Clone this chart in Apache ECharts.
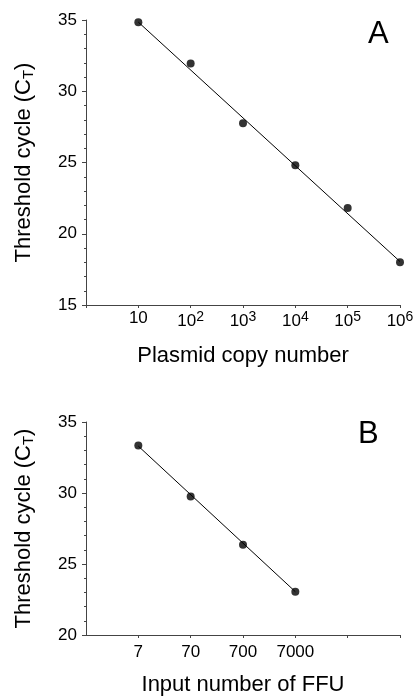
<!DOCTYPE html>
<html>
<head>
<meta charset="utf-8">
<script src="https://cdn.jsdelivr.net/npm/echarts@6/dist/echarts.min.js"></script>
<style>html,body{margin:0;padding:0;background:#fff;}#c{width:419px;height:697px;}</style>
</head>
<body>
<div id="c"></div>
<script>
// Panel A: plasmid copy number vs threshold cycle
const plasmidCopies = [10, 100, 1000, 10000, 100000, 1000000];
const ctA = [34.85, 31.95, 27.75, 24.8, 21.8, 18.0];
const fitA = [[10, 34.85], [1000000, 18.05]];
// Panel B: input FFU vs threshold cycle
const ffu = [7, 70, 700, 7000];
const ctB = [33.35, 29.75, 26.35, 23.05];
const fitB = [[7, 33.3], [7000, 23.05]];
const ffuTicks = [7, 70, 700, 7000, 70000, 700000];
const ffuLabels = [7, 70, 700, 7000];

const FONT = 'Liberation Sans, Arial, sans-serif';
const chart = echarts.init(document.getElementById('c'), null, {renderer: 'canvas'});

function yAxis(idx, min, max) {
  return {
    type: 'value', gridIndex: idx, min: min, max: max, interval: 5,
    name: 'Threshold cycle (C{sub|T})',
    nameLocation: 'middle', nameGap: 50,
    nameTextStyle: {fontFamily: FONT, fontSize: 22, color: '#000',
      rich: {sub: {fontFamily: FONT, fontSize: 15, color: '#000', padding: [9, 0, 0, 0]}}},
    axisLine: {show: true, lineStyle: {color: '#444', width: 1}},
    axisTick: {show: true, length: 4, lineStyle: {color: '#444'}},
    minorTick: {show: true, splitNumber: 5, length: 2, lineStyle: {color: '#444'}},
    splitLine: {show: false},
    axisLabel: {fontFamily: FONT, fontSize: 17, color: '#000', margin: 9}
  };
}

const option = {
  animation: false,
  backgroundColor: '#fff',
  title: [
    {text: 'A', left: 363, top: 14, textStyle: {fontFamily: FONT, fontSize: 31, fontWeight: 'normal', color: '#000'}},
    {text: 'B', left: 353, top: 414, textStyle: {fontFamily: FONT, fontSize: 31, fontWeight: 'normal', color: '#000'}}
  ],
  grid: [
    {left: 86, top: 20, width: 314, height: 285},
    {left: 86, top: 422, width: 314, height: 214}
  ],
  xAxis: [
    {
      type: 'log', logBase: 10, gridIndex: 0, min: 1, max: 1000000,
      name: 'Plasmid copy number', nameLocation: 'middle', nameGap: 40,
      nameTextStyle: {fontFamily: FONT, fontSize: 22, color: '#000'},
      axisLine: {show: true, lineStyle: {color: '#444', width: 1}},
      axisTick: {show: true, length: 3, lineStyle: {color: '#444'}},
      splitLine: {show: false},
      axisLabel: {
        fontFamily: FONT, fontSize: 17, color: '#000', margin: 5,
        formatter: function (v) {
          if (v < 5) return '';
          const e = Math.round(Math.log10(v));
          if (e === 1) return '10';
          return '10{sup|' + e + '}';
        },
        rich: {sup: {fontFamily: FONT, fontSize: 14, color: '#000', padding: [0, 0, 9, 0]}}
      }
    },
    {
      type: 'log', logBase: 10, gridIndex: 1, min: 0.7, max: 700000,
      name: 'Input number of FFU', nameLocation: 'middle', nameGap: 39,
      nameTextStyle: {fontFamily: FONT, fontSize: 22, color: '#000'},
      axisLine: {show: true, lineStyle: {color: '#444', width: 1}},
      axisTick: {show: true, length: 3, lineStyle: {color: '#444'}, customValues: ffuTicks},
      splitLine: {show: false},
      axisLabel: {fontFamily: FONT, fontSize: 17, color: '#000', margin: 9, customValues: ffuLabels,
        formatter: function (v) { return String(Math.round(v)); }}
    }
  ],
  yAxis: [yAxis(0, 15, 35), yAxis(1, 20, 35)],
  series: [
    {type: 'line', xAxisIndex: 0, yAxisIndex: 0, data: fitA, symbol: 'none',
      lineStyle: {color: '#000', width: 1}},
    {type: 'scatter', xAxisIndex: 0, yAxisIndex: 0, symbolSize: 8,
      itemStyle: {color: '#000'}, data: plasmidCopies.map((x, i) => [x, ctA[i]])},
    {type: 'line', xAxisIndex: 1, yAxisIndex: 1, data: fitB, symbol: 'none',
      lineStyle: {color: '#000', width: 1}},
    {type: 'scatter', xAxisIndex: 1, yAxisIndex: 1, symbolSize: 8,
      itemStyle: {color: '#000'}, data: ffu.map((x, i) => [x, ctB[i]])}
  ]
};
chart.setOption(option);
</script>
</body>
</html>
